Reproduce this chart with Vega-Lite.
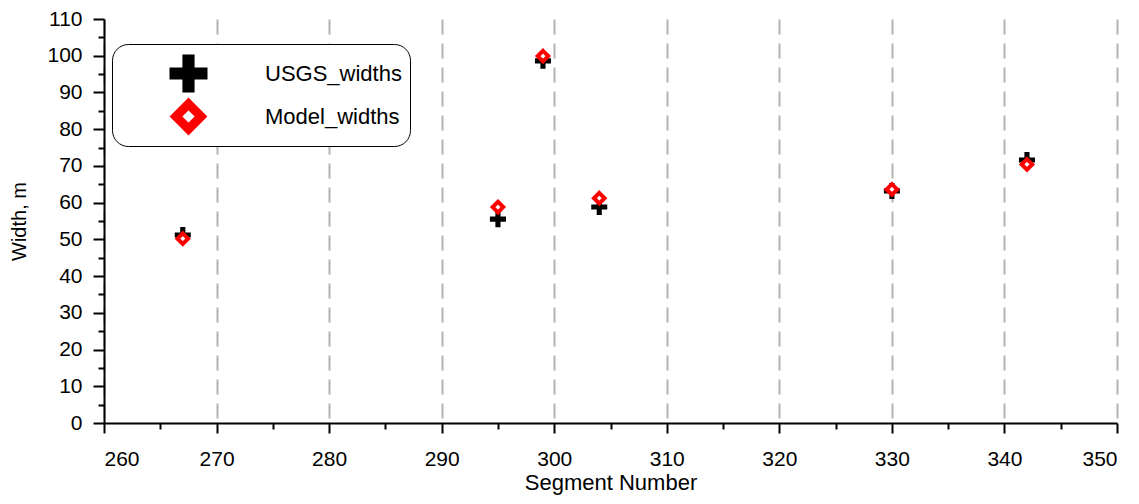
{
  "$schema": "https://vega.github.io/schema/vega-lite/v6.json",
  "width": 1013,
  "height": 404,
  "autosize": {"type": "none"},
  "padding": {"left": 104, "top": 19, "right": 22, "bottom": 81},
  "background": "white",
  "data": {
    "values": [
      {"seg": 267, "width": 51.2, "series": "USGS_widths"},
      {"seg": 295, "width": 55.5, "series": "USGS_widths"},
      {"seg": 299, "width": 98.6, "series": "USGS_widths"},
      {"seg": 304, "width": 58.8, "series": "USGS_widths"},
      {"seg": 330, "width": 63.2, "series": "USGS_widths"},
      {"seg": 342, "width": 71.6, "series": "USGS_widths"},
      {"seg": 267, "width": 50.2, "series": "Model_widths"},
      {"seg": 295, "width": 58.8, "series": "Model_widths"},
      {"seg": 299, "width": 99.9, "series": "Model_widths"},
      {"seg": 304, "width": 61.2, "series": "Model_widths"},
      {"seg": 330, "width": 63.6, "series": "Model_widths"},
      {"seg": 342, "width": 70.4, "series": "Model_widths"}
    ]
  },
  "layer": [
    {
      "mark": {"type": "point", "opacity": 0},
      "encoding": {
        "x": {
          "field": "seg", "type": "quantitative",
          "scale": {"domain": [260, 350], "nice": false, "zero": false},
          "axis": {"orient": "bottom", "values": [265, 275, 285, 295, 305, 315, 325, 335, 345], "labels": false, "domain": false, "grid": false, "tickSize": 6, "title": null}
        },
        "y": {
          "field": "width", "type": "quantitative",
          "scale": {"domain": [0, 110], "nice": false},
          "axis": {"orient": "left", "values": [5, 15, 25, 35, 45, 55, 65, 75, 85, 95, 105], "labels": false, "domain": false, "grid": false, "tickSize": 6, "title": null}
        }
      }
    },
    {
      "mark": {"type": "point", "filled": false, "strokeWidth": 4, "opacity": 1, "size": 256},
      "encoding": {
        "x": {
          "field": "seg", "type": "quantitative",
          "scale": {"domain": [260, 350], "nice": false, "zero": false},
          "axis": {"orient": "bottom", "values": [260, 270, 280, 290, 300, 310, 320, 330, 340, 350], "grid": true, "gridDash": [15, 9], "gridColor": "#b3b3b3", "gridWidth": 2, "tickSize": 10, "labelPadding": 15, "labelFontSize": 21, "title": "Segment Number", "titleFontSize": 22, "titlePadding": 3}
        },
        "y": {
          "field": "width", "type": "quantitative",
          "scale": {"domain": [0, 110], "nice": false},
          "axis": {"orient": "left", "values": [0, 10, 20, 30, 40, 50, 60, 70, 80, 90, 100, 110], "grid": false, "tickSize": 11, "labelPadding": 11, "labelFontSize": 21, "title": "Width, m", "titleFontSize": 20, "titlePadding": 17}
        },
        "shape": {
          "field": "series", "type": "nominal",
          "scale": {"domain": ["USGS_widths", "Model_widths"], "range": ["M-1,-0.32H-0.32V-1H0.32V-0.32H1V0.32H0.32V1H-0.32V0.32H-1Z", "M0,-0.66L0.66,0L0,0.66L-0.66,0Z"]},
          "legend": {
            "title": null,
            "orient": "none",
            "legendX": 8,
            "legendY": 25,
            "padding": 8,
            "symbolSize": 1444,
            "symbolStrokeWidth": 9,
            "symbolOffset": 45,
            "labelOffset": 53,
            "rowPadding": 0,
            "clipHeight": 43,
            "labelFontSize": 22,
            "labelFont": "Liberation Sans",
            "labelColor": "black",
            "strokeColor": "black",
            "cornerRadius": 16,
            "fillColor": "white",
            "encode": {
              "symbols": {"update": {"strokeWidth": {"value": 9}, "opacity": {"value": 1}}},
              "legend": {"update": {"strokeWidth": {"value": 2}}}
            }
          }
        },
        "fill": {
          "field": "series", "type": "nominal",
          "scale": {"domain": ["USGS_widths", "Model_widths"], "range": ["black", "white"]}
        },
        "stroke": {
          "field": "series", "type": "nominal",
          "scale": {"domain": ["USGS_widths", "Model_widths"], "range": ["transparent", "#ff0000"]}
        }
      }
    }
  ],
  "resolve": {"axis": {"x": "independent", "y": "independent"}},
  "config": {
    "view": {"stroke": null},
    "font": "Liberation Sans",
    "axis": {
      "domainColor": "black",
      "domainWidth": 2,
      "tickColor": "black",
      "tickWidth": 2,
      "labelColor": "black",
      "titleColor": "black",
      "labelFont": "Liberation Sans",
      "titleFont": "Liberation Sans",
      "titleFontWeight": "normal"
    }
  }
}
